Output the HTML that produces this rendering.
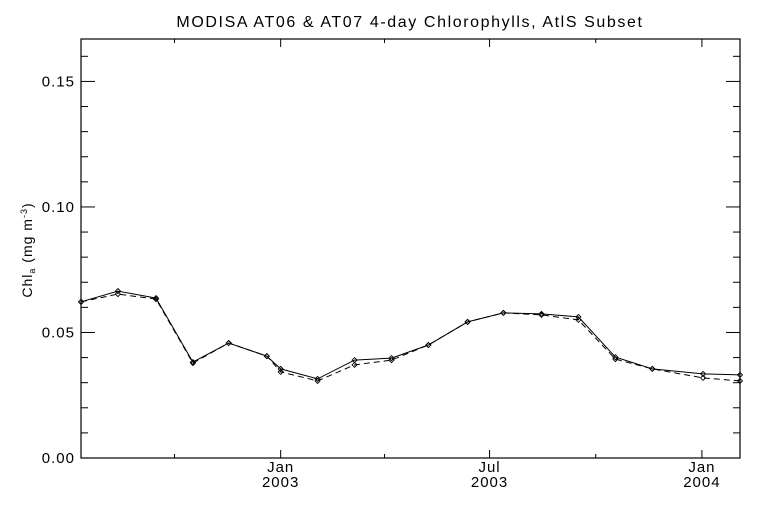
<!DOCTYPE html>
<html><head><meta charset="utf-8"><style>
body{margin:0;background:#fff}
svg text{font-family:"Liberation Sans",sans-serif;fill:#000}
</style></head><body>
<svg id="chart" width="768" height="512" viewBox="0 0 768 512" xmlns="http://www.w3.org/2000/svg">
<rect width="768" height="512" fill="#fff"/>
<text x="410" y="27" text-anchor="middle" font-size="16" letter-spacing="1.6">MODISA AT06 &amp; AT07 4-day Chlorophylls, AtlS Subset</text>
<rect x="81" y="39" width="659" height="419" fill="none" stroke="#000" stroke-width="1.2"/>
<text transform="translate(32,250) rotate(-90)" text-anchor="middle" font-size="14" letter-spacing="1">Chl<tspan font-size="9" dy="3">a</tspan><tspan dy="-3"> (mg m</tspan><tspan font-size="9" dy="-5">-3</tspan><tspan dy="5">)</tspan></text>
<g id="axes"></g>
<g id="series"></g>
</svg>
<script>
// day offsets relative to 1 Jan 2003
const days = [-173,-141,-108,-76,-45,-12,0,32,64,96,128,162,193,226,258,290,322,366,398];
const chlAT06 = [0.0622,0.0665,0.0637,0.0382,0.0458,0.0406,0.0355,0.0315,0.0390,0.0398,0.0450,0.0542,0.0578,0.0574,0.0562,0.0402,0.0355,0.0335,0.0331];
const chlAT07 = [0.0622,0.0653,0.0633,0.0378,0.0458,0.0406,0.0343,0.0307,0.0371,0.0390,0.0450,0.0542,0.0578,0.0570,0.0550,0.0394,0.0355,0.0319,0.0307];
const yTickLabels = ["0.00","0.05","0.10","0.15"];
const yTickValues = [0,0.05,0.10,0.15];
const xMajorDays = [0,181,365];
const xMajorMonth = ["Jan","Jul","Jan"];
const xMajorYear = ["2003","2003","2004"];
const xMinorDays = [-92,90,273];

const L=81,R=740,T=39,B=458, dMin=-173, dMax=398, vMax=0.1669;
const xs=d=>L+(d-dMin)/(dMax-dMin)*(R-L);
const ys=v=>B-v/vMax*(B-T);
const NS="http://www.w3.org/2000/svg";
const axes=document.getElementById('axes'), ser=document.getElementById('series');
function mk(tag,attrs,parent){const e=document.createElementNS(NS,tag);for(const k in attrs)e.setAttribute(k,attrs[k]);parent.appendChild(e);return e;}
function line(x1,y1,x2,y2,p){return mk('line',{x1,y1,x2,y2,stroke:'#000','stroke-width':1},p);}
for(let i=0;i<=16;i++){const v=i*0.01,y=ys(v),maj=i%5===0,len=maj?14:7;
  const t1=line(L,y,L+len,y,axes);
  
  
  const t2=line(R,y,R-len,y,axes);
  
  
}
yTickValues.forEach((v,i)=>{const t=mk('text',{x:75,y:ys(v)+5,'text-anchor':'end','font-size':15,'letter-spacing':1},axes);t.textContent=yTickLabels[i];
  
  });
xMajorDays.forEach((d,i)=>{const x=xs(d);
  const a=line(x,B,x,B-8,axes);
  
  
  const b=line(x,T,x,T+8,axes);
  
  
  const m=mk('text',{x:x,y:B+14,'text-anchor':'middle','font-size':15,'letter-spacing':1},axes);m.textContent=xMajorMonth[i];
  
  
  const yv=mk('text',{x:x,y:B+29,'text-anchor':'middle','font-size':15,'letter-spacing':1},axes);yv.textContent=xMajorYear[i];
  
  
});
xMinorDays.forEach(d=>{const x=xs(d);
  const a=line(x,B,x,B-4,axes);
  
  
  const b=line(x,T,x,T+4,axes);
  
  
});
function drawSeries(vals,dash,name){
  const pts=days.map((d,i)=>xs(d).toFixed(1)+','+ys(vals[i]).toFixed(1)).join(' ');
  const pl=mk('polyline',{points:pts,fill:'none',stroke:'#000','stroke-width':1,'stroke-dasharray':dash},ser);
  
  
  days.forEach((d,i)=>{const x=xs(d),y=ys(vals[i]);
    const p=mk('polygon',{points:`${x},${y-2.5} ${x+2.5},${y} ${x},${y+2.5} ${x-2.5},${y}`,fill:'none',stroke:'#000','stroke-width':0.9},ser);
    
    
  });
}
drawSeries(chlAT07,'6,4','at07-series');
drawSeries(chlAT06,'none','at06-series');
</script>
</body></html>
